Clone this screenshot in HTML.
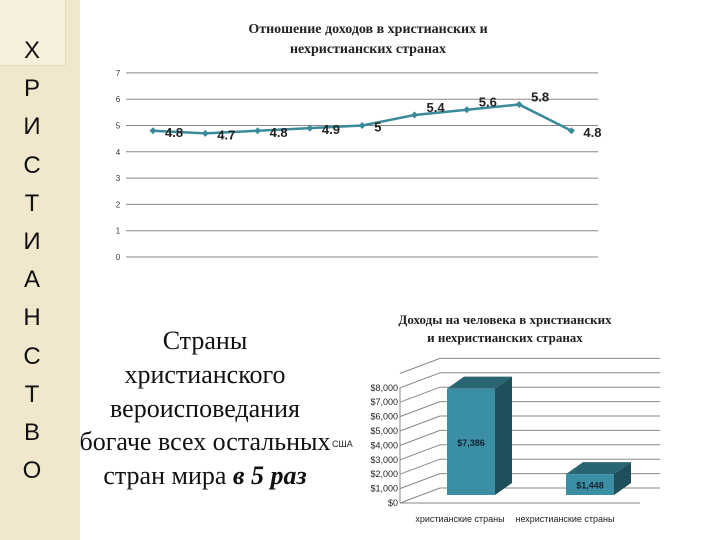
<!DOCTYPE html>
<html><head><meta charset="utf-8"><style>
body{margin:0;width:720px;height:540px;overflow:hidden;background:#fff;font-family:"Liberation Sans","Noto Sans CJK SC",sans-serif}
#strip{position:absolute;left:0;top:0;width:80px;height:540px;background:#f1e7cc}
#sq{position:absolute;left:0;top:0;width:65px;height:65px;background:#f6efdc;border-right:1px solid #e5d9b8;border-bottom:1px solid #e5d9b8}
#vert{position:absolute;left:17px;top:32px;width:30px;text-align:center;font-size:24px;line-height:38.2px;color:#111}
#txt{position:absolute;left:60px;top:324px;width:290px;text-align:center;font-family:"Liberation Serif","Noto Serif CJK SC",serif;font-size:26px;line-height:33.8px;color:#111}
svg{position:absolute;left:0;top:0}
</style></head><body>
<div id="strip"></div>
<div id="sq"></div>
<div id="vert">Х<br>Р<br>И<br>С<br>Т<br>И<br>А<br>Н<br>С<br>Т<br>В<br>О</div>
<div id="txt">Страны<br>христианского<br>вероисповедания<br>богаче всех остальных<br>стран мира <b><i>в 5 раз</i></b></div>
<svg id="c" width="720" height="540"></svg>
<script>
const lineValues=[4.8,4.7,4.8,4.9,5,5.4,5.6,5.8,4.8];
const lineTicks=[0,1,2,3,4,5,6,7];
const barCategories=["христианские страны","нехристианские страны"];
const barValues=[7386,1448];
const barLabels=["$7,386","$1,448"];
const barTicks=[0,1000,2000,3000,4000,5000,6000,7000,8000];
const NS="http://www.w3.org/2000/svg";const svg=document.getElementById('c');
function mk(t,a,txt){const e=document.createElementNS(NS,t);for(const k in a)e.setAttribute(k,a[k]);if(txt!=null)e.textContent=txt;svg.appendChild(e);return e;}
const ly=v=>257-v*26.3, lx=i=>153+i*52.3;
let e=mk('text',{x:368,y:33,'text-anchor':'middle','font-family':'Liberation Serif,serif','font-size':14,'font-weight':'bold',fill:'#222'},'Отношение доходов в христианских и');

e=mk('text',{x:368,y:53,'text-anchor':'middle','font-family':'Liberation Serif,serif','font-size':14,'font-weight':'bold',fill:'#222'},'нехристианских странах');

lineTicks.forEach(t=>{
 e=mk('line',{x1:126,x2:598,y1:ly(t),y2:ly(t),stroke:'#888','stroke-width':1});
 
 e=mk('text',{x:118,y:ly(t)+3,'text-anchor':'middle','font-size':8,fill:'#333'},t);
 
});
e=mk('polyline',{points:lineValues.map((v,i)=>lx(i)+','+ly(v)).join(' '),fill:'none',stroke:'#3a8a9a','stroke-width':2.5});

lineValues.forEach((v,i)=>{
 e=mk('path',{d:`M${lx(i)-3.5},${ly(v)}l3.5,-3.5l3.5,3.5l-3.5,3.5z`,fill:'#3a8a9a'});
 
 e=mk('text',{x:lx(i)+12,y:ly(v)+(v>=5.4?-3:6),'font-size':13,'font-weight':'bold',fill:'#222'},String(v));
 
});
e=mk('text',{x:505,y:324,'text-anchor':'middle','font-family':'Liberation Serif,serif','font-size':13,'font-weight':'bold',fill:'#222'},'Доходы на человека в христианских');

e=mk('text',{x:505,y:342,'text-anchor':'middle','font-family':'Liberation Serif,serif','font-size':13,'font-weight':'bold',fill:'#222'},'и нехристианских странах');

const by=v=>503-v*0.0144, bb=v=>495-v*0.0144;
[...barTicks,9000].forEach(t=>{
 e=mk('line',{x1:400,y1:by(t),x2:440,y2:by(t)-15,stroke:'#888','stroke-width':1});
 
 e=mk('line',{x1:440,y1:by(t)-15,x2:660,y2:by(t)-15,stroke:'#888','stroke-width':1});
 
});
mk('line',{x1:400,y1:by(0),x2:400,y2:by(8000),stroke:'#888'});
mk('line',{x1:400,y1:503,x2:640,y2:503,stroke:'#888'});
barTicks.forEach(t=>{
 e=mk('text',{x:398,y:by(t)+3,'text-anchor':'end','font-size':9,fill:'#222'},'$'+t.toLocaleString('en-US'));
 
});
e=mk('text',{x:332,y:447,'font-size':9,fill:'#222'},'США');

const bx=[447,566];
barValues.forEach((v,i)=>{
 const x=bx[i],t=bb(v);
 e=mk('path',{d:`M${x+48},${t}l17,-12V483l-17,12z`,fill:'#1f4f5a'});
 
 e=mk('path',{d:`M${x},${t}l17,-12h48l-17,12z`,fill:'#2a6573'});
 
 e=mk('rect',{x:x,y:t,width:48,height:495-t,fill:'#3b8fa4'});
 
 e=mk('text',{x:x+24,y:(t+495)/2+4,'text-anchor':'middle','font-size':9,'font-weight':'bold',fill:'#123'},barLabels[i]);
 
 e=mk('text',{x:[460,565][i],y:522,'text-anchor':'middle','font-size':9,fill:'#222'},barCategories[i]);
 
});
</script>
</body></html>
